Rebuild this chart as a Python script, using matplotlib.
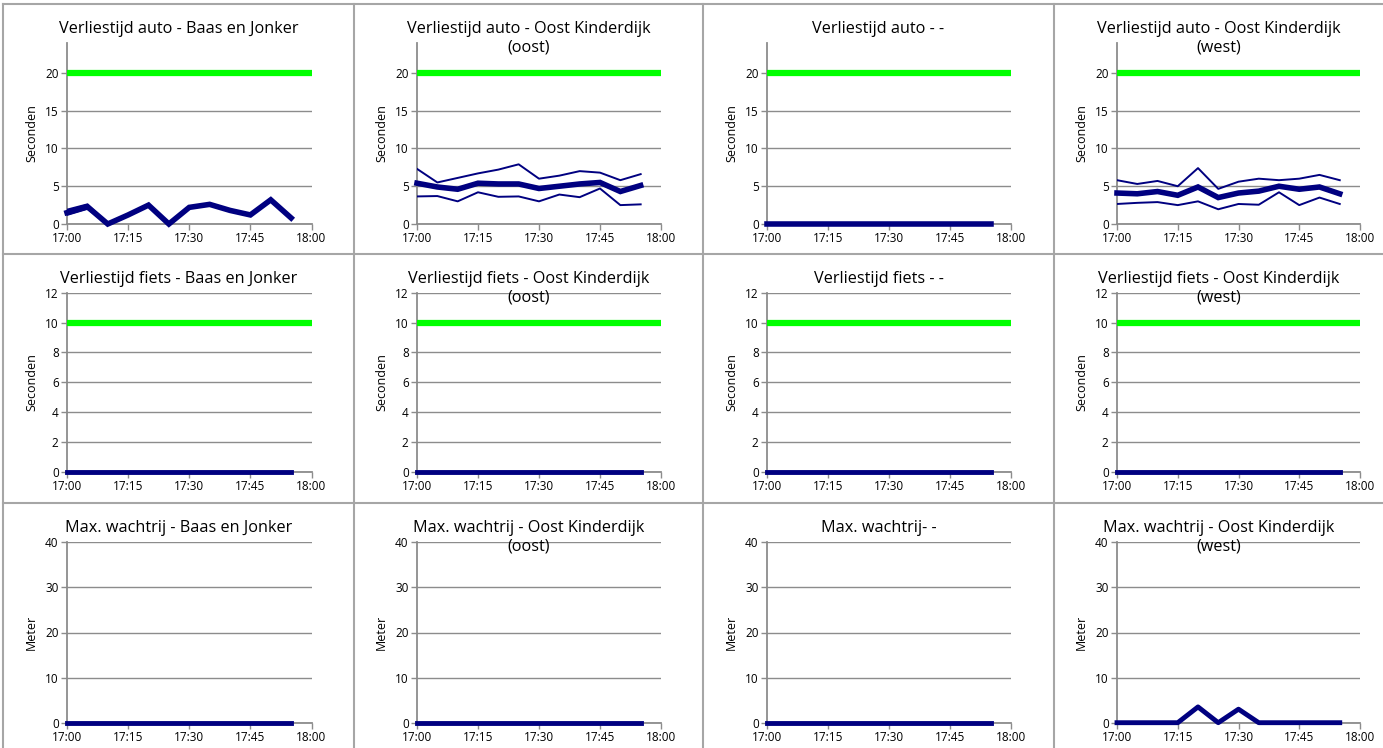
import matplotlib.pyplot as plt
from matplotlib.lines import Line2D

plt.rcParams['font.family'] = ['Open Sans', 'DejaVu Sans']

# time axis: minutes after 17:00, 5-minute intervals
minutes = [0, 5, 10, 15, 20, 25, 30, 35, 40, 45, 50, 55]
xtick_pos = [0, 15, 30, 45, 60]
xtick_labels = ['17:00', '17:15', '17:30', '17:45', '18:00']

# Verliestijd auto
auto_bj_mean = [1.5, 2.3, 0, 1.2, 2.5, 0, 2.2, 2.6, 1.8, 1.2, 3.2, 0.8]
auto_bj_high = [1.9, 2.6, 0, 1.3, 2.6, 0, 2.3, 2.7, 1.9, 1.3, 3.4, 0.9]
auto_bj_low = [1.2, 2.0, 0, 1.1, 2.4, 0, 2.1, 2.5, 1.7, 1.1, 3.1, 0.7]

auto_oko_mean = [5.4, 4.9, 4.6, 5.4, 5.3, 5.3, 4.7, 5.0, 5.3, 5.5, 4.3, 5.1]
auto_oko_high = [7.3, 5.5, 6.1, 6.7, 7.2, 7.9, 6.0, 6.4, 7.0, 6.8, 5.8, 6.6]
auto_oko_low = [3.65, 3.7, 3.0, 4.2, 3.6, 3.65, 3.0, 3.9, 3.55, 4.7, 2.5, 2.6]

auto_empty = [0] * 12

auto_okw_mean = [4.1, 4.0, 4.3, 3.8, 4.9, 3.5, 4.1, 4.35, 5.0, 4.6, 4.9, 4.0]
auto_okw_high = [5.8, 5.3, 5.7, 5.0, 7.4, 4.65, 5.6, 6.0, 5.8, 6.0, 6.5, 5.8]
auto_okw_low = [2.65, 2.8, 2.9, 2.5, 3.0, 1.95, 2.65, 2.55, 4.2, 2.5, 3.5, 2.65]

# Verliestijd fiets (all zero)
fiets_zero = [0] * 12

# Max. wachtrij
queue_zero = [0] * 12
queue_okw = [0, 0, 0, 0, 3.5, 0, 3.0, 0, 0, 0, 0, 0]

auto_norm = 20
fiets_norm = 10

titles = [
    ['Verliestijd auto - Baas en Jonker', 'Verliestijd auto - Oost Kinderdijk\n(oost)',
     'Verliestijd auto - -', 'Verliestijd auto - Oost Kinderdijk\n(west)'],
    ['Verliestijd fiets - Baas en Jonker', 'Verliestijd fiets - Oost Kinderdijk\n(oost)',
     'Verliestijd fiets - -', 'Verliestijd fiets - Oost Kinderdijk\n(west)'],
    ['Max. wachtrij - Baas en Jonker', 'Max. wachtrij - Oost Kinderdijk\n(oost)',
     'Max. wachtrij- -', 'Max. wachtrij - Oost Kinderdijk\n(west)'],
]

auto_series = [
    (auto_bj_mean, auto_bj_high, auto_bj_low),
    (auto_oko_mean, auto_oko_high, auto_oko_low),
    (auto_empty, None, None),
    (auto_okw_mean, auto_okw_high, auto_okw_low),
]
queue_series = [queue_zero, queue_zero, queue_zero, queue_okw]

W, H = 1383, 748
fig = plt.figure(figsize=(W / 100, H / 100), dpi=100)

navy = '#000080'
green = '#00ff00'
grey = '#8c8c8c'

col_px = [(67, 311.5), (417, 661), (767, 1011), (1117, 1360)]
row_px = [(42.7, 224), (292.7, 471.7), (542.3, 722.7)]
cell_x = [3, 354, 703, 1054, W]
title_y = [21, 271, 520]

row_ylim = [(0, 24), (0, 12), (0, 40)]
row_yticks = [[0, 5, 10, 15, 20], [0, 2, 4, 6, 8, 10, 12], [0, 10, 20, 30, 40]]
row_ylabel = ['Seconden', 'Seconden', 'Meter']

for r in range(3):
    for c in range(4):
        l, rr = col_px[c]
        t, b = row_px[r]
        ax = fig.add_axes([l / W, 1 - b / H, (rr - l) / W, (b - t) / H])
        ax.set_xlim(0, 60)
        ax.set_ylim(*row_ylim[r])
        ax.set_xticks(xtick_pos)
        ax.set_xticklabels(xtick_labels)
        ax.set_yticks(row_yticks[r])
        ax.yaxis.grid(True, color=grey, linewidth=1)
        ax.set_axisbelow(True)
        for s in ['top', 'right']:
            ax.spines[s].set_visible(False)
        for s in ['left', 'bottom']:
            ax.spines[s].set_color(grey)
            ax.spines[s].set_linewidth(1.3)
        ax.tick_params(axis='both', colors=grey, labelcolor='black', labelsize=8.5,
                       length=4, width=1, pad=2)
        ax.set_ylabel(row_ylabel[r], fontsize=9, labelpad=5)

        if r == 0:
            ax.axhline(auto_norm, color=green, linewidth=4.5, zorder=3)
            mean, high, low = auto_series[c]
            if high is not None:
                ax.plot(minutes, high, color=navy, linewidth=1.4, zorder=4)
                ax.plot(minutes, low, color=navy, linewidth=1.4, zorder=4)
            ax.plot(minutes, mean, color=navy, linewidth=4, zorder=5,
                    solid_joinstyle='miter', clip_on=False)
        elif r == 1:
            ax.axhline(fiets_norm, color=green, linewidth=4.5, zorder=3)
            ax.plot(minutes, fiets_zero, color=navy, linewidth=3.5, zorder=5,
                    clip_on=False)
        else:
            ax.plot(minutes, queue_series[c], color=navy, linewidth=3.5, zorder=5,
                    clip_on=False)

        fig.text(((cell_x[c] + cell_x[c + 1]) / 2) / W, 1 - title_y[r] / H,
                 titles[r][c], ha='center', va='top', fontsize=11.7,
                 linespacing=1.2)

# cell borders
for x in cell_x[:4]:
    fig.add_artist(Line2D([x / W, x / W], [0, 1 - 4 / H], color='#a6a6a6',
                          linewidth=1.5, transform=fig.transFigure))
for y in [4, 254, 503]:
    fig.add_artist(Line2D([3 / W, 1], [1 - y / H, 1 - y / H], color='#a6a6a6',
                          linewidth=1.5, transform=fig.transFigure))

fig.savefig('out.png', dpi=100)
